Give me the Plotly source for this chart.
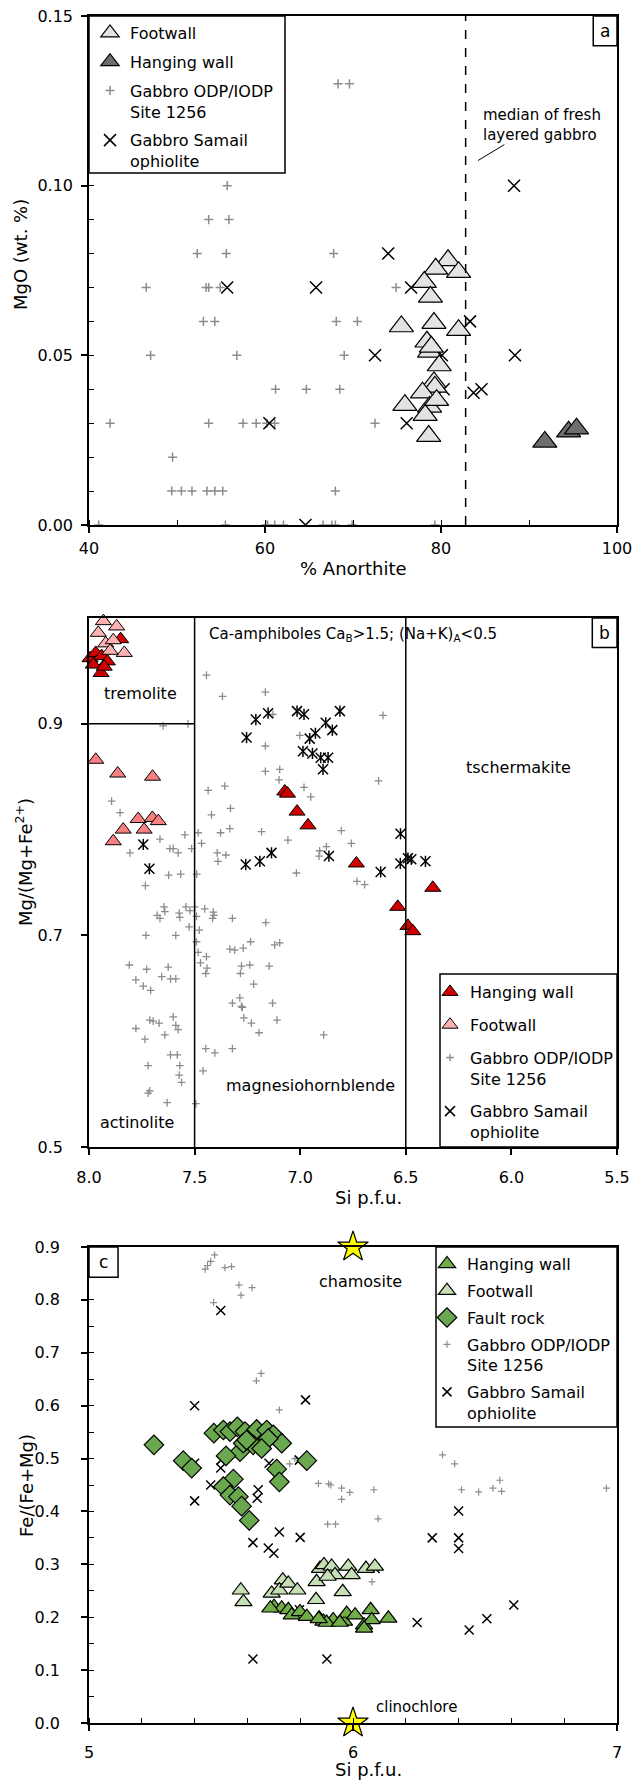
import plotly.graph_objects as go

# ---------------- panel a: plagioclase MgO vs % anorthite ----------------
an_footwall = [80.8, 79.4, 82.0, 78.1, 78.8, 75.5, 79.2, 82.0, 78.4, 78.7,
               78.9, 79.8, 79.2, 79.3, 77.9, 75.9, 78.7, 78.2, 78.6, 79.5]
mgo_footwall = [0.078, 0.0755, 0.0745, 0.0716, 0.0672, 0.0585, 0.0595, 0.0574, 0.054, 0.051,
                0.0525, 0.047, 0.042, 0.0407, 0.039, 0.0353, 0.0348, 0.0324, 0.0262, 0.0368]
an_hanging = [91.8, 94.5, 95.4]
mgo_hanging = [0.0245, 0.0275, 0.0284]
an_odp = [68.3, 69.6, 55.7, 53.6, 55.9, 52.3, 55.6, 67.8,
          46.5, 53.3, 53.6, 54.9, 74.9,
          53.0, 54.3, 68.1, 70.5,
          47.0, 56.8, 69.0,
          61.2, 64.7, 68.5,
          42.4, 53.6, 57.5, 59.0, 60.2, 61.1, 72.5,
          49.5,
          49.4, 50.5, 51.7, 53.4, 54.3, 55.2, 68.0,
          41.1, 55.5, 60.1, 60.3, 61.1, 62.1, 66.6, 67.6, 68.0, 69.9, 79.3]
mgo_odp = [0.13, 0.13, 0.10, 0.09, 0.09, 0.08, 0.08, 0.08,
           0.07, 0.07, 0.07, 0.07, 0.07,
           0.06, 0.06, 0.06, 0.06,
           0.05, 0.05, 0.05,
           0.04, 0.04, 0.04,
           0.03, 0.03, 0.03, 0.03, 0.03, 0.03, 0.03,
           0.02,
           0.01, 0.01, 0.01, 0.01, 0.01, 0.01, 0.01,
           0.0, 0.0, 0.0, 0.0, 0.0, 0.0, 0.0, 0.0, 0.0, 0.0, 0.0]
an_samail = [88.3, 74.0, 55.7, 65.8, 76.6, 83.3, 72.5, 80.1, 88.4, 80.3, 83.7, 84.6, 60.5, 76.1, 64.6]
mgo_samail = [0.10, 0.08, 0.07, 0.07, 0.07, 0.06, 0.05, 0.05, 0.05, 0.04, 0.039, 0.04, 0.03, 0.03, 0.0]
an_median_fresh = 82.8

# ---------------- panel b: amphibole Mg/(Mg+Fe2+) vs Si ----------------
si_amph_hanging = [7.995, 7.968, 7.94, 7.913, 7.98, 7.943, 7.928, 7.85,
                   7.073, 7.06, 7.015, 6.963, 6.734, 6.372, 6.538, 6.49, 6.467]
mg_amph_hanging = [0.962, 0.967, 0.964, 0.959, 0.956, 0.948, 0.954, 0.98,
                   0.836, 0.834, 0.817, 0.804, 0.768, 0.745, 0.727, 0.709, 0.704]
si_amph_foot_trem = [7.932, 7.869, 7.956, 7.921, 7.833, 7.885, 7.90]
mg_amph_foot_trem = [0.997, 0.992, 0.986, 0.976, 0.967, 0.979, 0.969]
si_amph_foot_act = [7.968, 7.864, 7.699, 7.767, 7.70, 7.672, 7.739, 7.838, 7.885]
mg_amph_foot_act = [0.866, 0.853, 0.850, 0.810, 0.811, 0.808, 0.80, 0.80, 0.789]
si_amph_samail = [7.210, 7.152, 7.015, 6.982, 6.812, 7.254, 6.879, 6.848, 6.928, 6.955,
                  6.987, 6.942, 6.903, 6.868, 6.892, 7.258, 7.191, 7.136, 6.864, 6.619,
                  6.525, 6.526, 6.49, 6.474, 6.407, 7.743, 7.714]
mg_amph_samail = [0.904, 0.910, 0.912, 0.909, 0.912, 0.887, 0.901, 0.894, 0.891, 0.886,
                  0.874, 0.872, 0.868, 0.868, 0.857, 0.767, 0.770, 0.778, 0.775, 0.760,
                  0.796, 0.768, 0.773, 0.772, 0.770, 0.786, 0.763]
si_amph_odp = [7.444, 7.368, 7.165, 7.129, 7.002, 7.165, 7.165, 7.097, 7.10, 6.982,
               6.950, 6.608, 6.629, 7.436, 7.357, 7.330, 7.420, 7.333, 7.377, 7.467,
               7.183, 7.058, 6.805, 6.758, 7.393, 7.352, 7.389, 6.908, 6.876, 6.911,
               7.018, 6.731, 6.695,
               7.649, 7.531, 7.893, 7.853, 7.664, 7.806, 7.546, 7.483, 7.514, 7.617,
               7.601, 7.578,
               7.733, 7.623, 7.566, 7.49,
               7.645, 7.641, 7.677, 7.664, 7.573, 7.570, 7.541, 7.522, 7.499, 7.491,
               7.452, 7.412, 7.408, 7.415, 7.321, 7.163, 7.730, 7.589, 7.526, 7.478,
               7.491, 7.333, 7.310, 7.270, 7.235, 7.121, 7.097, 7.483, 7.444, 7.472,
               7.441, 7.447, 7.809, 7.727, 7.625, 7.656, 7.614, 7.589, 7.778, 7.743,
               7.708, 7.278, 7.239, 7.147, 7.283, 7.220, 7.286, 7.321, 7.278, 7.274,
               7.131, 7.712, 7.696, 7.668, 7.601, 7.589, 7.578, 7.778, 7.735, 7.641,
               7.267, 7.231, 7.195, 7.110, 6.889, 7.447, 7.404, 7.321, 7.614, 7.582,
               7.720, 7.570, 7.573, 7.562, 7.460, 7.712, 7.720, 7.630, 7.494]
mg_amph_odp = [0.946, 0.926, 0.930, 0.909, 0.889, 0.879, 0.855, 0.857, 0.847, 0.840,
               0.831, 0.908, 0.846, 0.837, 0.841, 0.820, 0.814, 0.801, 0.797, 0.787,
               0.798, 0.790, 0.799, 0.787, 0.778, 0.776, 0.770, 0.780, 0.784, 0.775,
               0.759, 0.751, 0.748,
               0.898, 0.900, 0.827, 0.816, 0.791, 0.778, 0.795, 0.797, 0.782, 0.782,
               0.782, 0.778,
               0.747, 0.757, 0.758, 0.758,
               0.727, 0.7225, 0.719, 0.716, 0.721, 0.717, 0.727, 0.7235, 0.727, 0.718,
               0.725, 0.722, 0.719, 0.716, 0.716, 0.712, 0.700, 0.700, 0.708, 0.705,
               0.694, 0.687, 0.686, 0.688, 0.694, 0.691, 0.693, 0.684, 0.680, 0.674,
               0.669, 0.664, 0.672, 0.668, 0.670, 0.661, 0.659, 0.659, 0.658, 0.652,
               0.648, 0.671, 0.672, 0.671, 0.664, 0.654, 0.641, 0.636, 0.633, 0.632,
               0.636, 0.620, 0.619, 0.617, 0.623, 0.615, 0.611, 0.612, 0.602, 0.606,
               0.622, 0.617, 0.608, 0.620, 0.606, 0.593, 0.589, 0.593, 0.587, 0.587,
               0.577, 0.577, 0.568, 0.561, 0.572, 0.553, 0.551, 0.542, 0.541]

# ---------------- panel c: chlorite Fe/(Fe+Mg) vs Si ----------------
si_chl_hanging = [5.701, 5.730, 5.755, 5.768, 5.799, 5.825, 5.872, 5.888, 5.925, 5.966,
                  5.976, 6.008, 6.042, 6.067, 6.071, 6.134, 6.042, 5.90, 5.95, 5.687, 5.87]
fe_chl_hanging = [0.220, 0.217, 0.214, 0.204, 0.210, 0.201, 0.198, 0.192, 0.195, 0.192,
                  0.207, 0.204, 0.185, 0.214, 0.195, 0.198, 0.179, 0.19, 0.19, 0.217, 0.197]
si_chl_footwall = [5.575, 5.585, 5.692, 5.734, 5.721, 5.755, 5.789, 5.860, 5.862, 5.875,
                   5.890, 5.919, 5.932, 5.961, 5.982, 5.995, 6.049, 6.083, 5.904]
fe_chl_footwall = [0.251, 0.229, 0.245, 0.270, 0.251, 0.264, 0.251, 0.233, 0.267, 0.292,
                   0.299, 0.296, 0.280, 0.248, 0.296, 0.280, 0.292, 0.296, 0.277]
si_chl_fault = [5.246, 5.357, 5.389, 5.473, 5.509, 5.534, 5.562, 5.591, 5.616, 5.635,
                5.673, 5.698, 5.730, 5.679, 5.622, 5.572, 5.519, 5.711, 5.721, 5.825,
                5.547, 5.509, 5.534, 5.566, 5.578, 5.607, 5.584, 5.654, 5.597]
fe_chl_fault = [0.526, 0.496, 0.482, 0.548, 0.554, 0.551, 0.560, 0.551, 0.538, 0.555,
                0.554, 0.545, 0.529, 0.538, 0.526, 0.513, 0.505, 0.480, 0.456, 0.496,
                0.461, 0.447, 0.431, 0.428, 0.410, 0.383, 0.529, 0.519, 0.535]
si_chl_odp = [5.476, 5.461, 5.449, 5.44, 5.515, 5.54, 5.472, 5.568, 5.576, 5.618,
              5.652, 5.634, 5.721, 6.339, 6.385, 5.78, 5.869, 5.908, 5.916, 5.957,
              5.988, 5.957, 6.079, 6.095, 5.904, 5.934, 6.411, 6.476, 6.53, 6.556,
              6.563, 6.96, 6.072, 5.76]
fe_chl_odp = [0.885, 0.873, 0.865, 0.858, 0.861, 0.863, 0.795, 0.828, 0.809, 0.823,
              0.661, 0.647, 0.592, 0.507, 0.490, 0.50, 0.453, 0.452, 0.45, 0.444,
              0.436, 0.423, 0.441, 0.386, 0.376, 0.376, 0.441, 0.437, 0.444, 0.459,
              0.438, 0.444, 0.267, 0.49]
si_chl_samail = [5.499, 5.40, 5.82, 5.40, 5.461, 5.40, 5.499, 5.50, 5.682, 5.641,
                 5.637, 5.721, 5.80, 5.621, 5.679, 5.70, 5.797, 6.40, 6.30, 6.40,
                 6.40, 5.621, 5.901, 5.797, 6.243, 6.44, 6.507, 6.609, 7.003, 6.084]
fe_chl_samail = [0.780, 0.600, 0.611, 0.491, 0.450, 0.420, 0.482, 0.497, 0.491, 0.441,
                 0.425, 0.361, 0.351, 0.341, 0.331, 0.321, 0.497, 0.401, 0.350, 0.350,
                 0.330, 0.121, 0.121, 0.214, 0.190, 0.176, 0.197, 0.223, 0.231, 0.292]
endmember_names = ["chamosite", "clinochlore"]
si_endmember = [6.0, 6.0]
fe_endmember = [0.9, 0.0]

# ---------------- page geometry ----------------
W, H = 633, 1783
ML, MR = 89, 16
PW = W - ML - MR
FONT = "DejaVu Sans, Liberation Sans, sans-serif"
GREY = "#8c8c8c"


def ydom(top_px, bottom_px):
    return [1 - bottom_px / H, 1 - top_px / H]


def lx(px):
    return (px - ML) / PW


def ly(py):
    return 1 - py / H


fig = go.Figure()

# ----- panel a traces -----
fig.add_trace(go.Scatter(x=an_odp, y=mgo_odp, mode="markers", name="Gabbro ODP/IODP<br>Site 1256",
                         marker=dict(symbol="cross-thin", size=6.5, line=dict(color=GREY, width=1.5)),
                         legend="legend", legendgroup="a3", legendrank=3, xaxis="x", yaxis="y"))
fig.add_trace(go.Scatter(x=an_samail, y=mgo_samail, mode="markers", name="Gabbro Samail<br>ophiolite",
                         marker=dict(symbol="x-thin", size=12, line=dict(color="black", width=1.5)),
                         legend="legend", legendgroup="a4", legendrank=4, xaxis="x", yaxis="y"))
fig.add_trace(go.Scatter(x=an_footwall, y=mgo_footwall, mode="markers", name="Footwall",
                         marker=dict(symbol="triangle-up", size=21, color="#e3e3e3",
                                     line=dict(color="black", width=1.2)),
                         legend="legend", legendgroup="a1", legendrank=1, xaxis="x", yaxis="y"))
fig.add_trace(go.Scatter(x=an_hanging, y=mgo_hanging, mode="markers", name="Hanging wall",
                         marker=dict(symbol="triangle-up", size=21, color="#6e6e6e",
                                     line=dict(color="black", width=1.2)),
                         legend="legend", legendgroup="a2", legendrank=2, xaxis="x", yaxis="y"))

# ----- panel b traces -----
fig.add_trace(go.Scatter(x=si_amph_odp, y=mg_amph_odp, mode="markers", name="Gabbro ODP/IODP<br>Site 1256",
                         marker=dict(symbol="cross-thin", size=5.5, line=dict(color=GREY, width=1.3)),
                         legend="legend2", legendgroup="b3", legendrank=3, xaxis="x2", yaxis="y2"))
fig.add_trace(go.Scatter(x=si_amph_samail, y=mg_amph_samail, mode="markers", name="Gabbro Samail<br>ophiolite",
                         marker=dict(symbol="x-thin", size=10, line=dict(color="black", width=1.5)),
                         legend="legend2", legendgroup="b4", legendrank=4, xaxis="x2", yaxis="y2"))
fig.add_trace(go.Scatter(x=si_amph_samail, y=mg_amph_samail, mode="markers", showlegend=False,
                         marker=dict(symbol="line-ns", size=8, line=dict(color="black", width=1.5)),
                         legend="legend2", legendgroup="b4", xaxis="x2", yaxis="y2"))
fig.add_trace(go.Scatter(x=si_amph_foot_act, y=mg_amph_foot_act, mode="markers", showlegend=False,
                         marker=dict(symbol="triangle-up", size=14, color="#f88080",
                                     line=dict(color="black", width=1)),
                         legend="legend2", legendgroup="b2", xaxis="x2", yaxis="y2"))
fig.add_trace(go.Scatter(x=si_amph_hanging, y=mg_amph_hanging, mode="markers", name="Hanging wall",
                         cliponaxis=False,
                         marker=dict(symbol="triangle-up", size=14, color="#d00000",
                                     line=dict(color="black", width=1)),
                         legend="legend2", legendgroup="b1", legendrank=1, xaxis="x2", yaxis="y2"))
fig.add_trace(go.Scatter(x=si_amph_foot_trem, y=mg_amph_foot_trem, mode="markers", name="Footwall",
                         cliponaxis=False,
                         marker=dict(symbol="triangle-up", size=14, color="#ffb0b0",
                                     line=dict(color="black", width=1)),
                         legend="legend2", legendgroup="b2", legendrank=2, xaxis="x2", yaxis="y2"))

# ----- panel c traces -----
fig.add_trace(go.Scatter(x=si_chl_odp, y=fe_chl_odp, mode="markers", name="Gabbro ODP/IODP<br>Site 1256",
                         marker=dict(symbol="cross-thin", size=5, line=dict(color=GREY, width=1.2)),
                         legend="legend3", legendgroup="c4", legendrank=4, xaxis="x3", yaxis="y3"))
fig.add_trace(go.Scatter(x=si_chl_samail, y=fe_chl_samail, mode="markers", name="Gabbro Samail<br>ophiolite",
                         marker=dict(symbol="x-thin", size=9, line=dict(color="black", width=1.5)),
                         legend="legend3", legendgroup="c5", legendrank=5, xaxis="x3", yaxis="y3"))
fig.add_trace(go.Scatter(x=si_chl_fault, y=fe_chl_fault, mode="markers", name="Fault rock",
                         marker=dict(symbol="diamond", size=15, color="#6aa84f",
                                     line=dict(color="black", width=1.2)),
                         legend="legend3", legendgroup="c3", legendrank=3, xaxis="x3", yaxis="y3"))
fig.add_trace(go.Scatter(x=si_chl_footwall, y=fe_chl_footwall, mode="markers", name="Footwall",
                         marker=dict(symbol="triangle-up", size=15, color="#c5e0b4",
                                     line=dict(color="black", width=1.2)),
                         legend="legend3", legendgroup="c2", legendrank=2, xaxis="x3", yaxis="y3"))
fig.add_trace(go.Scatter(x=si_chl_hanging, y=fe_chl_hanging, mode="markers", name="Hanging wall",
                         marker=dict(symbol="triangle-up", size=15, color="#70ad47",
                                     line=dict(color="black", width=1.2)),
                         legend="legend3", legendgroup="c1", legendrank=1, xaxis="x3", yaxis="y3"))
fig.add_trace(go.Scatter(x=si_endmember, y=fe_endmember, mode="markers", showlegend=False,
                         cliponaxis=False, hovertext=endmember_names,
                         marker=dict(symbol="star", size=23, color="#ffff00",
                                     line=dict(color="black", width=1.2)),
                         xaxis="x3", yaxis="y3"))

# ---------------- axes ----------------
tickfont = dict(family=FONT, size=16, color="black")
common = dict(showline=True, mirror=True, linecolor="black", linewidth=1.5, showgrid=False,
              zeroline=False, ticks="outside", ticklen=6, tickwidth=1.5, tickcolor="black",
              tickfont=tickfont, automargin=False)

fig.update_layout(
    xaxis=dict(common, domain=[0, 1], anchor="y", range=[40, 100], dtick=20, tick0=40,
               minor=dict(dtick=10, ticks="inside", ticklen=5, tickwidth=1.2, tickcolor="black"),
               ticklabelstandoff=2),
    yaxis=dict(common, domain=ydom(16, 525), anchor="x", range=[0, 0.15], dtick=0.05,
               tickformat=".2f",
               minor=dict(dtick=0.01, ticks="inside", ticklen=5, tickwidth=1.2, tickcolor="black"),
               ticklabelstandoff=5),
    xaxis2=dict(common, domain=[0, 1], anchor="y2", range=[8.0, 5.5], dtick=0.5, tick0=5.5,
                tickformat=".1f", ticklabelstandoff=9),
    yaxis2=dict(common, domain=ydom(618, 1147), anchor="x2", range=[0.5, 1.0], dtick=0.2,
                tick0=0.5, tickformat=".1f", ticklabelstandoff=15),
    xaxis3=dict(common, domain=[0, 1], anchor="y3", range=[5, 7], dtick=1, tick0=5,
                minor=dict(dtick=0.2, ticks="inside", ticklen=5, tickwidth=1.2, tickcolor="black"),
                ticklabelstandoff=8),
    yaxis3=dict(common, domain=ydom(1247, 1723), anchor="x3", range=[0, 0.9], dtick=0.1,
                tickformat=".1f",
                minor=dict(dtick=0.05, ticks="inside", ticklen=5, tickwidth=1.2, tickcolor="black"),
                ticklabelstandoff=18),
)

# legends: transparent, framed by the rectangles drawn below
legend_common = dict(bgcolor="rgba(0,0,0,0)", borderwidth=0,
                     font=dict(family=FONT, size=16, color="black"),
                     xanchor="left", yanchor="top", traceorder="grouped", valign="top")
fig.update_layout(
    legend=dict(legend_common, x=lx(90), y=ly(16), tracegroupgap=5),
    legend2=dict(legend_common, x=lx(430), y=ly(975), tracegroupgap=9),
    legend3=dict(legend_common, x=lx(427), y=ly(1247), tracegroupgap=3),
)

# ---------------- reference lines, class boundaries, frames ----------------
line_black = dict(color="black", width=1.5)
shapes = [
    # panel a: median An of fresh layered gabbro
    dict(type="line", xref="x", yref="y", x0=an_median_fresh, x1=an_median_fresh, y0=0, y1=0.15,
         line=dict(color="black", width=1.5, dash="dash")),
    dict(type="line", xref="x", yref="y", x0=84.2, y0=0.1074, x1=87.2, y1=0.1121,
         line=dict(color="black", width=1)),
    dict(type="rect", xref="x", yref="y", x0=97.3, x1=100, y0=0.1412, y1=0.15,
         line=line_black, fillcolor="white"),
    # panel b: amphibole classification fields
    dict(type="line", xref="x2", yref="y2", x0=7.5, x1=7.5, y0=0.5, y1=1.0, line=line_black),
    dict(type="line", xref="x2", yref="y2", x0=6.5, x1=6.5, y0=0.5, y1=1.0, line=line_black),
    dict(type="line", xref="x2", yref="y2", x0=8.0, x1=7.5, y0=0.9, y1=0.9, line=line_black),
    dict(type="rect", xref="x2", yref="y2", x0=5.617, x1=5.5, y0=0.972, y1=1.0,
         line=line_black, fillcolor="white"),
    # panel c: panel letter box
    dict(type="rect", xref="x3", yref="y3", x0=5.0, x1=5.11, y0=0.843, y1=0.9,
         line=line_black, fillcolor="white"),
]
legend_frames = [(89, 16, 285, 173), (440, 974, 617, 1147), (436, 1247, 617, 1427)]
for x0, y0, x1, y1 in legend_frames:
    shapes.append(dict(type="rect", xref="paper", yref="paper", x0=lx(x0), x1=lx(x1),
                       y0=ly(y1), y1=ly(y0), line=line_black, fillcolor="white", layer="above"))
fig.update_layout(shapes=shapes)

txt = dict(family=FONT, size=16, color="black")
small = dict(family=FONT, size=15, color="black")
letter = dict(family=FONT, size=17, color="black")
titlefont = dict(family=FONT, size=18, color="black")


def axis_title(px, py, text, angle=0):
    return dict(xref="paper", yref="paper", x=lx(px), y=ly(py), text=text, textangle=angle,
                xanchor="center", yanchor="middle", showarrow=False, font=titlefont)


annotations = [
    axis_title(353, 568, "% Anorthite"),
    axis_title(20, 255, "MgO (wt. %)", -90),
    axis_title(368, 1197, "Si p.f.u."),
    axis_title(24, 862, "Mg/(Mg+Fe<sup>2+</sup>)", -90),
    axis_title(368, 1769, "Si p.f.u."),
    axis_title(26, 1486, "Fe/(Fe+Mg)", -90),
    # panel labels and field names
    dict(xref="x", yref="y", x=98.65, y=0.1456, text="a", showarrow=False, font=letter),
    dict(xref="x", yref="y", x=84.6, y=0.118, text="median of fresh<br>layered gabbro",
         showarrow=False, xanchor="left", align="left", font=small),
    dict(xref="x2", yref="y2", x=5.558, y=0.986, text="b", showarrow=False, font=letter),
    dict(xref="x2", yref="y2", x=7.44, y=0.984,
         text="Ca-amphiboles Ca<sub>B</sub>&gt;1.5; (Na+K)<sub>A</sub>&lt;0.5",
         showarrow=False, xanchor="left", font=small),
    dict(xref="x2", yref="y2", x=7.754, y=0.929, text="tremolite", showarrow=False, font=txt),
    dict(xref="x2", yref="y2", x=5.965, y=0.859, text="tschermakite", showarrow=False, font=txt),
    dict(xref="x2", yref="y2", x=7.773, y=0.523, text="actinolite", showarrow=False, font=txt),
    dict(xref="x2", yref="y2", x=6.95, y=0.558, text="magnesiohornblende", showarrow=False, font=txt),
    dict(xref="x3", yref="y3", x=5.055, y=0.8715, text="c", showarrow=False, font=letter),
    dict(xref="x3", yref="y3", x=6.03, y=0.834, text=endmember_names[0], showarrow=False, font=txt),
    dict(xref="x3", yref="y3", x=6.24, y=0.03, text=endmember_names[1], showarrow=False, font=small),
]
fig.update_layout(annotations=annotations)

fig.update_layout(
    width=W, height=H,
    margin=dict(l=ML, r=MR, t=0, b=0, pad=0),
    paper_bgcolor="white", plot_bgcolor="white",
    font=dict(family=FONT, size=16, color="black"),
)

fig.write_html("out.html")
